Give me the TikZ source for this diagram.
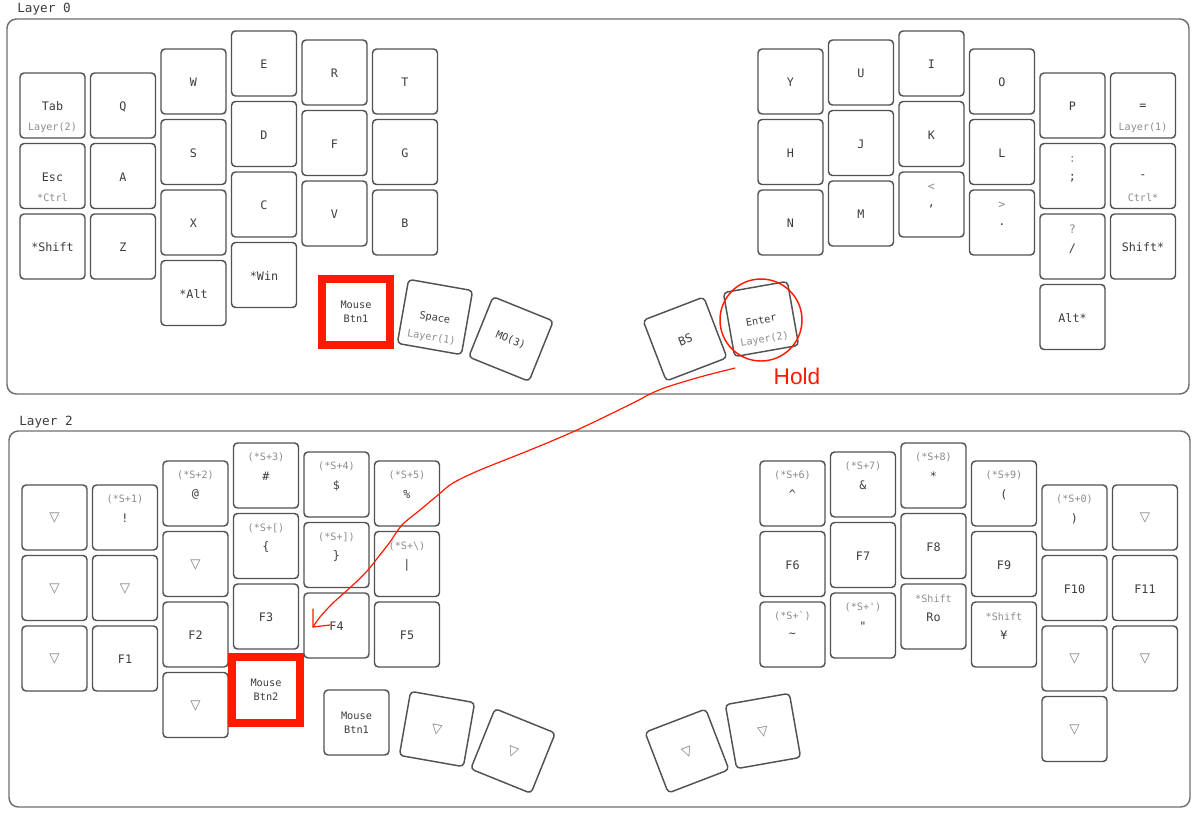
\documentclass[tikz,border=0pt]{standalone}
\usepackage{fontspec}
\usetikzlibrary{calc}
\setmainfont{DejaVu Sans Mono}
\newfontfamily\trifont{DejaVu Sans}
\newfontfamily\holdfont{Liberation Sans}
\definecolor{keyline}{HTML}{525252}
\definecolor{txtmain}{HTML}{3C3C3C}
\definecolor{txtsub}{HTML}{8C8C8C}
\definecolor{trigray}{HTML}{7A7F88}
\definecolor{panelgray}{HTML}{6E6E6E}
\definecolor{hlred}{HTML}{FF1A00}
\tikzset{
  keycap/.style={draw=keyline, line width=1.1pt, rounded corners=3pt, minimum width=48.75pt, minimum height=48.75pt, inner sep=0pt},
  mainlbl/.style={text=txtmain, font=\fontsize{8.8}{10}\selectfont, inner sep=0pt},
  sublbl/.style={text=txtsub, font=\fontsize{7.6}{9}\selectfont, inner sep=0pt},
  toplbl/.style={text=txtsub, font=\fontsize{7.6}{9}\selectfont, inner sep=0pt},
  symlbl/.style={text=txtsub, font=\fontsize{8.8}{10}\selectfont, inner sep=0pt},
  thumblbl/.style={text=txtmain, font=\fontsize{7.7}{9}\selectfont, inner sep=0pt},
  trilbl/.style={text=trigray, font=\trifont\fontsize{10}{11}\selectfont, inner sep=0pt},
  redframe/.style={draw=hlred, line width=6pt, minimum width=51pt, minimum height=49.5pt, inner sep=0pt},
  panel/.style={draw=panelgray, line width=1.1pt, rounded corners=7pt},
  layertitle/.style={text=txtmain, font=\fontsize{9.5}{11}\selectfont, inner sep=0pt, anchor=west},
  holdline/.style={draw=hlred, line width=0.9pt},
}
% single label
\newcommand\KA[4]{\node[keycap] (#1) at (#2,#3) {};
  \node[mainlbl] (#1-m) at (#2,{#3+1}) {#4};}
% main + sub label
\newcommand\KS[5]{\node[keycap] (#1) at (#2,#3) {};
  \node[mainlbl] (#1-m) at (#2,{#3+1}) {#4};
  \node[sublbl] (#1-s) at (#2,{#3+22}) {#5};}
% top + main label
\newcommand\KT[5]{\node[keycap] (#1) at (#2,#3) {};
  \node[toplbl] (#1-t) at (#2,{#3-18}) {#4};
  \node[mainlbl] (#1-m) at (#2,{#3+1}) {#5};}
% shifted symbol + main label
\newcommand\KY[5]{\node[keycap] (#1) at (#2,#3) {};
  \node[symlbl] (#1-t) at (#2,{#3-17}) {#4};
  \node[mainlbl] (#1-m) at (#2,{#3+2}) {#5};}
% transparent key
\newcommand\KV[3]{\node[keycap] (#1) at (#2,#3) {};
  \node[trilbl] (#1-m) at (#2,{#3+1}) {▽};}
\begin{document}
\begin{tikzpicture}[x=0.75pt, y=-0.75pt]
\useasboundingbox (0,0) rectangle (1200,819);

% ================= Layer 0 =================
\node[layertitle] (l0title) at (17,9) {Layer 0};
\draw[panel] (7,19) rectangle (1189,394);

\KS{tab}{52.5}{105.5}{Tab}{Layer(2)}
\KS{esc}{52.5}{176}{Esc}{*Ctrl}
\KA{lsft}{52.5}{246.5}{*Shift}
\KA{q}{123}{105.5}{Q}
\KA{a}{123}{176}{A}
\KA{z}{123}{246.5}{Z}
\KA{w}{193.5}{81.5}{W}
\KA{s}{193.5}{152}{S}
\KA{x}{193.5}{222.5}{X}
\KA{lalt}{193.5}{293}{*Alt}
\KA{e}{264}{63.5}{E}
\KA{d}{264}{134}{D}
\KA{c}{264}{204.5}{C}
\KA{lwin}{264}{275}{*Win}
\KA{r}{334.5}{72.5}{R}
\KA{f}{334.5}{143}{F}
\KA{v}{334.5}{213.5}{V}
\KA{t}{405}{81.5}{T}
\KA{g}{405}{152}{G}
\KA{bb}{405}{222.5}{B}

\KA{y}{790.5}{81.5}{Y}
\KA{h}{790.5}{152}{H}
\KA{n}{790.5}{222.5}{N}
\KA{u}{861}{72.5}{U}
\KA{j}{861}{143}{J}
\KA{m}{861}{213.5}{M}
\KA{i}{931.5}{63.5}{I}
\KA{k}{931.5}{134}{K}
\KY{comma}{931.5}{204.5}{<}{,}
\KA{o}{1002}{81.5}{O}
\KA{l}{1002}{152}{L}
\KY{dot}{1002}{222.5}{>}{.}
\KA{p}{1072.5}{105.5}{P}
\KY{semi}{1072.5}{176}{:}{;}
\KY{slash}{1072.5}{246.5}{?}{/}
\KA{ralt}{1072.5}{317}{Alt*}
\KS{eq}{1143}{105.5}{=}{Layer(1)}
\KS{minus}{1143}{176}{-}{Ctrl*}
\KA{rsft}{1143}{246.5}{Shift*}

% thumbs
\node[redframe] (mb1) at (356,312) {};
\node[thumblbl] (mb1-a) at (356,305) {Mouse};
\node[thumblbl] (mb1-b) at (356,319) {Btn1};
\begin{scope}[shift={(435,317)}, rotate=-10, transform shape]
  \node[keycap] (space) at (0,0) {};
  \node[thumblbl] (space-m) at (0,1) {Space};
  \node[sublbl] (space-s) at (0,21) {Layer(1)};
\end{scope}
\begin{scope}[shift={(511,339)}, rotate=-22, transform shape]
  \node[keycap] (mo3) at (0,0) {};
  \node[thumblbl] (mo3-m) at (0,1) {MO(3)};
\end{scope}
\begin{scope}[shift={(685,339)}, rotate=21, transform shape]
  \node[keycap] (bs) at (0,0) {};
  \node[mainlbl] (bs-m) at (0,1) {BS};
\end{scope}
\begin{scope}[shift={(761,319)}, rotate=10, transform shape]
  \node[keycap] (enter) at (0,0) {};
  \node[thumblbl] (enter-m) at (0,1) {Enter};
  \node[sublbl] (enter-s) at (0,21) {Layer(2)};
\end{scope}

\node[circle, draw=hlred, line width=1.1pt, minimum size=61.5pt, inner sep=0pt] (ring) at (761,320) {};
\node[text=hlred, font=\holdfont\fontsize{17}{19}\selectfont, inner sep=0pt] (hold) at (797,376) {Hold};

% ================= Layer 2 =================
\node[layertitle] (l2title) at (19,422) {Layer 2};
\draw[panel] (9,431) rectangle (1190,807);

\begin{scope}[shift={(2,412)}]
\KV{b00}{52.5}{105.5}
\KV{b01}{52.5}{176}
\KV{b02}{52.5}{246.5}
\KT{b10}{123}{105.5}{(*S+1)}{!}
\KV{b11}{123}{176}
\KA{b12}{123}{246.5}{F1}
\KT{b20}{193.5}{81.5}{(*S+2)}{@}
\KV{b21}{193.5}{152}
\KA{b22}{193.5}{222.5}{F2}
\KV{b23}{193.5}{293}
\KT{b30}{264}{63.5}{(*S+3)}{\#}
\KT{b31}{264}{134}{(*S+[)}{\{}
\KA{b32}{264}{204.5}{F3}
\KT{b40}{334.5}{72.5}{(*S+4)}{\$}
\KT{b41}{334.5}{143}{(*S+])}{\}}
\KA{b42}{334.5}{213.5}{F4}
\KT{b50}{405}{81.5}{(*S+5)}{\%}
\KT{b51}{405}{152}{(*S+\textbackslash)}{|}
\KA{b52}{405}{222.5}{F5}

\node[redframe] (mb2) at (264,277.5) {};
\node[thumblbl] (mb2-a) at (264,270.5) {Mouse};
\node[thumblbl] (mb2-b) at (264,284.5) {Btn2};

\node[keycap] (bmb1) at (354.5,310.5) {};
\node[thumblbl] (bmb1-a) at (354.5,303.5) {Mouse};
\node[thumblbl] (bmb1-b) at (354.5,317.5) {Btn1};

\KT{c00}{790.5}{81.5}{(*S+6)}{\textasciicircum}
\KA{c01}{790.5}{152}{F6}
\KT{c02}{790.5}{222.5}{(*S+\textasciigrave)}{\textasciitilde}
\KT{c10}{861}{72.5}{(*S+7)}{\&}
\KA{c11}{861}{143}{F7}
\KT{c12}{861}{213.5}{(*S+\textquotesingle)}{\textquotedbl}
\KT{c20}{931.5}{63.5}{(*S+8)}{*}
\KA{c21}{931.5}{134}{F8}
\KT{c22}{931.5}{204.5}{*Shift}{Ro}
\KT{c30}{1002}{81.5}{(*S+9)}{(}
\KA{c31}{1002}{152}{F9}
\KT{c32}{1002}{222.5}{*Shift}{¥}
\KT{c40}{1072.5}{105.5}{(*S+0)}{)}
\KA{c41}{1072.5}{176}{F10}
\KV{c42}{1072.5}{246.5}
\KV{c43}{1072.5}{317}
\KV{c50}{1143}{105.5}
\KA{c51}{1143}{176}{F11}
\KV{c52}{1143}{246.5}

\begin{scope}[shift={(435,317)}, rotate=-10, transform shape]
  \node[keycap] (bt1) at (0,0) {};
  \node[trilbl] (bt1-m) at (0,1) {▽};
\end{scope}
\begin{scope}[shift={(511,339)}, rotate=-22, transform shape]
  \node[keycap] (bt2) at (0,0) {};
  \node[trilbl] (bt2-m) at (0,1) {▽};
\end{scope}
\begin{scope}[shift={(685,339)}, rotate=21, transform shape]
  \node[keycap] (bt3) at (0,0) {};
  \node[trilbl] (bt3-m) at (0,1) {▽};
\end{scope}
\begin{scope}[shift={(761,319)}, rotate=10, transform shape]
  \node[keycap] (bt4) at (0,0) {};
  \node[trilbl] (bt4-m) at (0,1) {▽};
\end{scope}
\end{scope}

% ================= hold arrow =================
\coordinate (arrS) at (735,368);
\coordinate (arrE) at (313,627);
\draw[holdline, line cap=round, line join=round] plot[smooth, tension=0.55] coordinates {(arrS) (700,377) (667,387) (650,394) (633,403) (577,430) (530,450) (480,470) (453,483) (438,495) (420,510) (402,525) (390,542) (379,556) (368,570) (353,585) (333,603) (320,617) (arrE)};
\draw[holdline, line cap=round, line join=round] ($(arrE)+(0,-18)$) -- (arrE) -- ($(arrE)+(17,-2)$);
\end{tikzpicture}
\end{document}
